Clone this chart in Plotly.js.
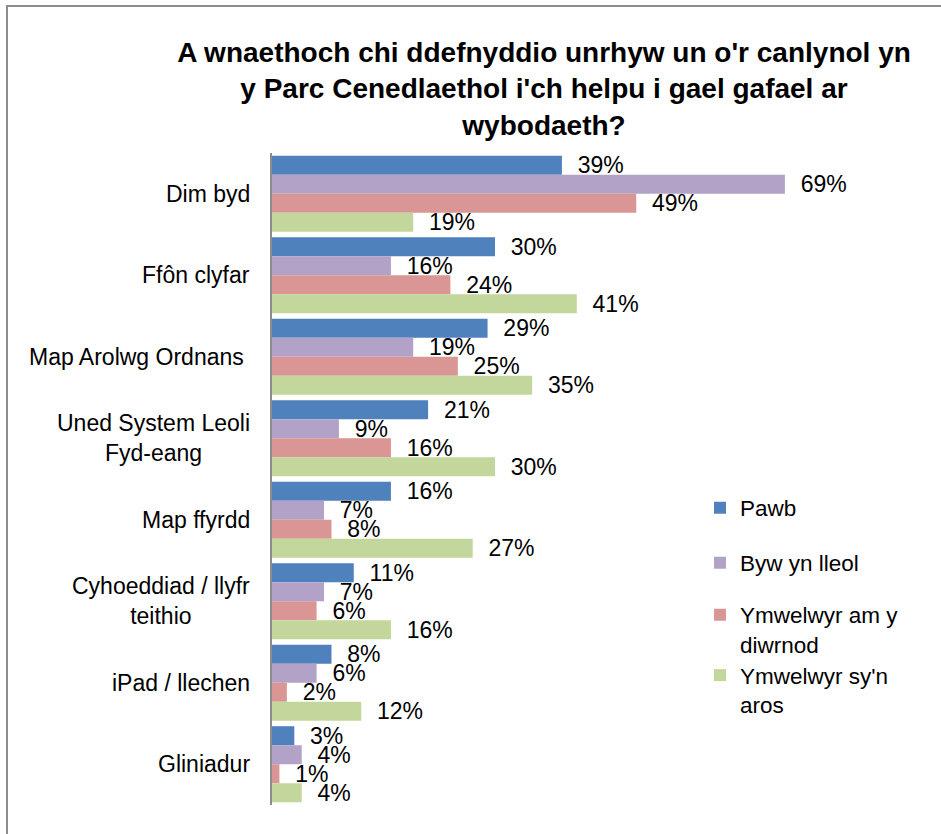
<!DOCTYPE html>
<html>
<head>
<meta charset="utf-8">
<script src="https://cdn.plot.ly/plotly-3.0.1.min.js"></script>
<style>
  html, body { margin: 0; padding: 0; background: #fff; overflow: hidden; }
  #wrap { position: relative; width: 941px; height: 834px; }
  #chart { position: absolute; left: 0; top: 0; width: 941px; height: 834px; }
  #frame { position: absolute; left: 6px; top: 5px; width: 1200px; height: 1200px;
           border-left: 2px solid #8c8c8c; border-top: 2px solid #8c8c8c; pointer-events: none; }
</style>
</head>
<body>
<div id="wrap">
  <div id="chart"></div>
  <div id="frame"></div>
</div>
<script>
const categories = ["Dim byd", "Ffôn clyfar", "Map Arolwg Ordnans ", "Uned System Leoli<br>Fyd-eang",
                    "Map ffyrdd", "Cyhoeddiad / llyfr<br>teithio", "iPad / llechen", "Gliniadur"];
const seriesNames = ["Pawb", "Byw yn lleol", "Ymwelwyr am y<br>diwrnod", "Ymwelwyr sy'n<br>aros"];
const pawb    = [39, 30, 29, 21, 16, 11, 8, 3];
const bywLleol = [69, 16, 19, 9, 7, 7, 6, 4];
const diwrnod = [49, 24, 25, 16, 8, 6, 2, 1];
const aros    = [19, 41, 35, 30, 27, 16, 12, 4];
const colors = ["#4F81BD", "#B3A2C7", "#D99694", "#C3D69B"];

const FONT = "Arial, 'Liberation Sans', sans-serif";
const allSeries = [pawb, bywLleol, diwrnod, aros];
const legendIds = ["legend", "legend2", "legend3", "legend4"];

const traces = allSeries.map((vals, i) => ({
  type: "bar",
  orientation: "h",
  name: seriesNames[i],
  y: categories,
  x: vals,
  marker: { color: colors[i], line: { width: 0 } },
  text: vals.map(v => "\u00a0\u00a0" + v + "%"),
  textposition: "outside",
  textfont: { family: FONT, size: 23, color: "#000" },
  constraintext: "none",
  cliponaxis: false,
  hoverinfo: "x+y",
  showlegend: true,
  legend: legendIds[i]
}));

// plot area: x 272..941, y 153..805 (pixels)
const PL = 272, PW = 669, PT = 153, PH = 652;
const legendCenters = [508, 563, 629.5, 690];
function legendAt(px) {
  return {
    xref: "paper", yref: "paper",
    x: (700 - PL) / PW, y: (PT + PH - px) / PH,
    xanchor: "left", yanchor: "middle",
    bgcolor: "rgba(0,0,0,0)", borderwidth: 0,
    font: { family: FONT, size: 22.5, color: "#000" },
    valign: "top"
  };
}

const annotations = categories.map(c => ({
  xref: "paper", yref: "y",
  x: 0, y: c,
  xanchor: "right", yanchor: "middle",
  xshift: -20,
  text: c, showarrow: false, align: "center",
  font: { family: FONT, size: 23, color: "#000" }
}));

const layout = {
  width: 941, height: 834,
  margin: { l: PL, r: 941 - PL - PW, t: PT, b: 834 - PT - PH, autoexpand: false },
  paper_bgcolor: "rgba(0,0,0,0)",
  plot_bgcolor: "rgba(0,0,0,0)",
  showlegend: true,
  title: {
    text: "A wnaethoch chi ddefnyddio unrhyw un o'r canlynol yn<br>y Parc Cenedlaethol i'ch helpu i gael gafael ar<br>wybodaeth?",
    font: { family: FONT, size: 28, color: "#000", weight: "bold" },
    xref: "container", yref: "container",
    x: 544 / 941, xanchor: "center",
    y: 1 - 62 / 834, yanchor: "top"
  },
  barmode: "group",
  bargap: 0.067,
  bargroupgap: 0,
  xaxis: { range: [0, 90], visible: false, fixedrange: true },
  yaxis: {
    autorange: "reversed",
    showticklabels: false,
    showgrid: false, zeroline: false,
    showline: true, linecolor: "#8c8c8c", linewidth: 2,
    ticks: "", fixedrange: true
  },
  annotations: annotations,
  legend: legendAt(legendCenters[0]),
  legend2: legendAt(legendCenters[1]),
  legend3: legendAt(legendCenters[2]),
  legend4: legendAt(legendCenters[3]),
  font: { family: FONT, color: "#000" }
};

Plotly.newPlot("chart", traces, layout, { displayModeBar: false });
</script>
</body>
</html>
